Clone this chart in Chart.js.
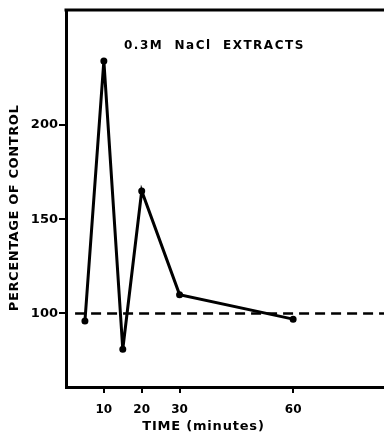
<!DOCTYPE html>
<html>
<head>
<meta charset="utf-8">
<script src="https://cdn.jsdelivr.net/npm/chart.js@4.4.1/dist/chart.umd.min.js"></script>
<style>
  html, body { margin: 0; padding: 0; background: #fff; overflow: hidden; }
  #wrap { position: relative; width: 384px; height: 434px; }
</style>
</head>
<body>
<div id="wrap"><canvas id="c" width="384" height="434"></canvas></div>
<script>
// ---- data ----
const timeMinutes = [5, 10, 15, 20, 30, 60];
const percentOfControl = [96, 234, 81, 165, 110, 97];
const controlX = [2.4, 84];
const controlY = [100, 100];
const xTickValues = [10, 20, 30, 60];
const yTickValues = [100, 150, 200];
const chartTitle = '0.3M  NaCl  EXTRACTS';
const xAxisTitle = 'TIME (minutes)';
const yAxisTitle = 'PERCENTAGE OF CONTROL';

const FONT = '"DejaVu Sans", sans-serif';

const textPlugin = {
  id: 'texts',
  afterDraw(chart) {
    const { ctx, chartArea } = chart;
    const xs = chart.scales.x;
    const ys = chart.scales.y;
    ctx.save();
    // top border
    ctx.strokeStyle = '#000';
    ctx.lineWidth = 3;
    ctx.beginPath();
    ctx.moveTo(chartArea.left - 1.5, chartArea.top);
    ctx.lineTo(chartArea.right, chartArea.top);
    ctx.stroke();

    ctx.fillStyle = '#000';
    // chart title inside plot
    ctx.font = 'bold 12px ' + FONT;
    ctx.letterSpacing = '1.5px';
    ctx.textAlign = 'left';
    ctx.textBaseline = 'middle';
    ctx.fillText(chartTitle, chartArea.left + 58, chartArea.top + 36);

    // x title
    ctx.letterSpacing = '0.8px';
    ctx.font = 'bold 13px ' + FONT;
    ctx.textAlign = 'center';
    ctx.fillText(xAxisTitle, xs.getPixelForValue(36.3), 427);

    // y title
    ctx.font = 'bold 13px ' + FONT;
    ctx.letterSpacing = '0.6px';
    ctx.translate(15, ys.getPixelForValue(156));
    ctx.rotate(-Math.PI / 2);
    ctx.fillText(yAxisTitle, 0, 0);
    ctx.restore();
  }
};

new Chart(document.getElementById('c'), {
  type: 'line',
  data: {
    datasets: [
      {
        data: timeMinutes.map((t, i) => ({ x: t, y: percentOfControl[i] })),
        borderColor: '#000',
        backgroundColor: '#000',
        borderWidth: 3,
        pointRadius: 2,
        pointBackgroundColor: '#000',
        pointBorderColor: '#000',
        tension: 0
      },
      {
        data: controlX.map((t, i) => ({ x: t, y: controlY[i] })),
        borderColor: '#000',
        borderWidth: 2.5,
        borderDash: [10, 6],
        pointRadius: 0,
        tension: 0
      }
    ]
  },
  plugins: [textPlugin],
  options: {
    responsive: false,
    animation: false,
    events: [],
    layout: { autoPadding: false, padding: { top: 10, right: 0, bottom: 0, left: 0 } },
    plugins: { legend: { display: false }, tooltip: { enabled: false }, title: { display: false } },
    scales: {
      x: {
        type: 'linear',
        min: 0,
        max: 84,
        afterBuildTicks(scale) { scale.ticks = xTickValues.map(v => ({ value: v })); },
        afterFit(scale) { scale.height = 47; },
        border: { display: true, color: '#000', width: 3 },
        grid: { display: true, drawOnChartArea: false, drawTicks: true, tickLength: 6, color: '#000', lineWidth: 2 },
        ticks: { color: '#000', font: { family: FONT, weight: 'bold', size: 12 }, padding: 10, maxRotation: 0, autoSkip: false }
      },
      y: {
        type: 'linear',
        min: 61,
        max: 261,
        afterBuildTicks(scale) { scale.ticks = yTickValues.map(v => ({ value: v })); },
        afterFit(scale) { scale.width = 66; },
        border: { display: true, color: '#000', width: 3 },
        grid: { display: true, drawOnChartArea: false, drawTicks: true, tickLength: 7, color: '#000', lineWidth: 2 },
        ticks: { color: '#000', font: { family: FONT, weight: 'bold', size: 13 }, padding: 1, autoSkip: false }
      }
    }
  }
});
</script>
</body>
</html>
